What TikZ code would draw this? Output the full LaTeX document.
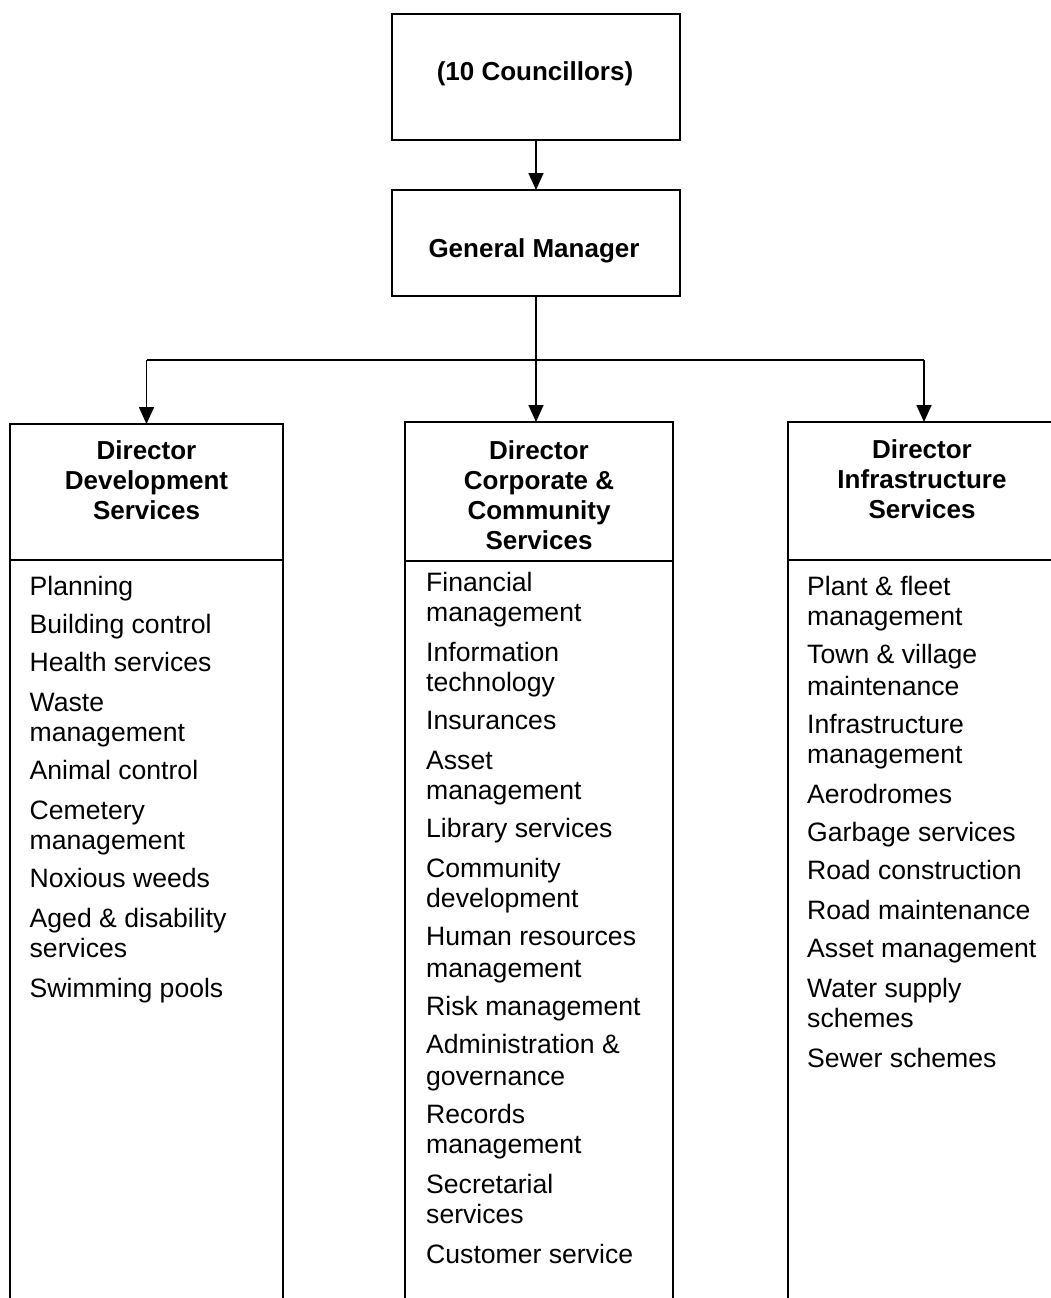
\documentclass[tikz,border=0pt]{standalone}
\usepackage{fontspec}
\setmainfont{Liberation Sans}
\usetikzlibrary{arrows.meta}
\begin{document}
\begin{tikzpicture}[x=1pt,y=-1pt,
  box/.style={draw, line width=1.6pt, inner sep=0pt, outer sep=0pt, rectangle},
  arr/.style={line width=1.6pt, -{Triangle[length=17pt,width=15pt]}},
  conn/.style={line width=1.6pt},
  ttl/.style={font=\fontsize{26}{30}\selectfont\bfseries, inner sep=0pt, anchor=base},
  item/.style={font=\fontsize{26.6}{30}\selectfont, inner sep=0pt, anchor=base west}]
\clip (0,0) rectangle (1051,1298);
% boxes
\node[box, minimum width=288pt, minimum height=126pt] (council) at (536,77) {};
\node[box, minimum width=288pt, minimum height=106pt] (gm) at (536,243) {};
\node[box, minimum width=273pt, minimum height=136pt] (lefthead) at (146.5,492) {};
\node[box, minimum width=273pt, minimum height=760pt] (leftbody) at (146.5,940) {};
\node[box, minimum width=268pt, minimum height=139pt] (midhead) at (539,491.5) {};
\node[box, minimum width=268pt, minimum height=759pt] (midbody) at (539,940.5) {};
\node[box, minimum width=272pt, minimum height=138pt] (righthead) at (924,491) {};
\node[box, minimum width=272pt, minimum height=760pt] (rightbody) at (924,940) {};
% titles
\node[ttl] (t1) at (535,81) {(10 Councillors)};
\node[ttl] (t2) at (534,257) {General Manager};
\node[ttl] (lh1) at (146.5,459) {Director};
\node[ttl] (lh2) at (146.5,489) {Development};
\node[ttl] (lh3) at (146.5,519) {Services};
\node[ttl] (mh1) at (539,459) {Director};
\node[ttl] (mh2) at (539,489) {Corporate \&};
\node[ttl] (mh3) at (539,519) {Community};
\node[ttl] (mh4) at (539,549) {Services};
\node[ttl] (rh1) at (922,458) {Director};
\node[ttl] (rh2) at (922,488) {Infrastructure};
\node[ttl] (rh3) at (922,518) {Services};
% connectors
\coordinate (bus) at (536,360);
\draw[arr] (council) -- (gm);
\draw[arr] (gm.south) -- (gm.south |- midhead.north);
\draw[conn] (lefthead.north |- bus) -- (righthead.north |- bus);
\draw[arr] (lefthead.north |- bus) -- (lefthead.north);
\draw[arr] (righthead.north |- bus) -- (righthead.north);
% left list
\node[item] (l1) at (29.5,595) {Planning};
\node[item] (l2) at (29.5,633) {Building control};
\node[item] (l3) at (29.5,671) {Health services};
\node[item] (l4) at (29.5,711) {Waste};
\node[item] (l4b) at (29.5,741) {management};
\node[item] (l5) at (29.5,779) {Animal control};
\node[item] (l6) at (29.5,819) {Cemetery};
\node[item] (l6b) at (29.5,849) {management};
\node[item] (l7) at (29.5,887) {Noxious weeds};
\node[item] (l8) at (29.5,927) {Aged \& disability};
\node[item] (l8b) at (29.5,957) {services};
\node[item] (l9) at (29.5,997) {Swimming pools};
% middle list
\node[item] (m1) at (426,591) {Financial};
\node[item] (m1b) at (426,621) {management};
\node[item] (m2) at (426,661) {Information};
\node[item] (m2b) at (426,691) {technology};
\node[item] (m3) at (426,729) {Insurances};
\node[item] (m4) at (426,769) {Asset};
\node[item] (m4b) at (426,799) {management};
\node[item] (m5) at (426,837) {Library services};
\node[item] (m6) at (426,877) {Community};
\node[item] (m6b) at (426,907) {development};
\node[item] (m7) at (426,945) {Human resources};
\node[item] (m7b) at (426,977) {management};
\node[item] (m8) at (426,1015) {Risk management};
\node[item] (m9) at (426,1053) {Administration \&};
\node[item] (m9b) at (426,1085) {governance};
\node[item] (m10) at (426,1123) {Records};
\node[item] (m10b) at (426,1153) {management};
\node[item] (m11) at (426,1193) {Secretarial};
\node[item] (m11b) at (426,1223) {services};
\node[item] (m12) at (426,1263) {Customer service};
% right list
\node[item] (r1) at (807,595) {Plant \& fleet};
\node[item] (r1b) at (807,625) {management};
\node[item] (r2) at (807,663) {Town \& village};
\node[item] (r2b) at (807,695) {maintenance};
\node[item] (r3) at (807,733) {Infrastructure};
\node[item] (r3b) at (807,763) {management};
\node[item] (r4) at (807,803) {Aerodromes};
\node[item] (r5) at (807,841) {Garbage services};
\node[item] (r6) at (807,879) {Road construction};
\node[item] (r7) at (807,919) {Road maintenance};
\node[item] (r8) at (807,957) {Asset management};
\node[item] (r9) at (807,997) {Water supply};
\node[item] (r9b) at (807,1027) {schemes};
\node[item] (r10) at (807,1067) {Sewer schemes};
\end{tikzpicture}
\end{document}
